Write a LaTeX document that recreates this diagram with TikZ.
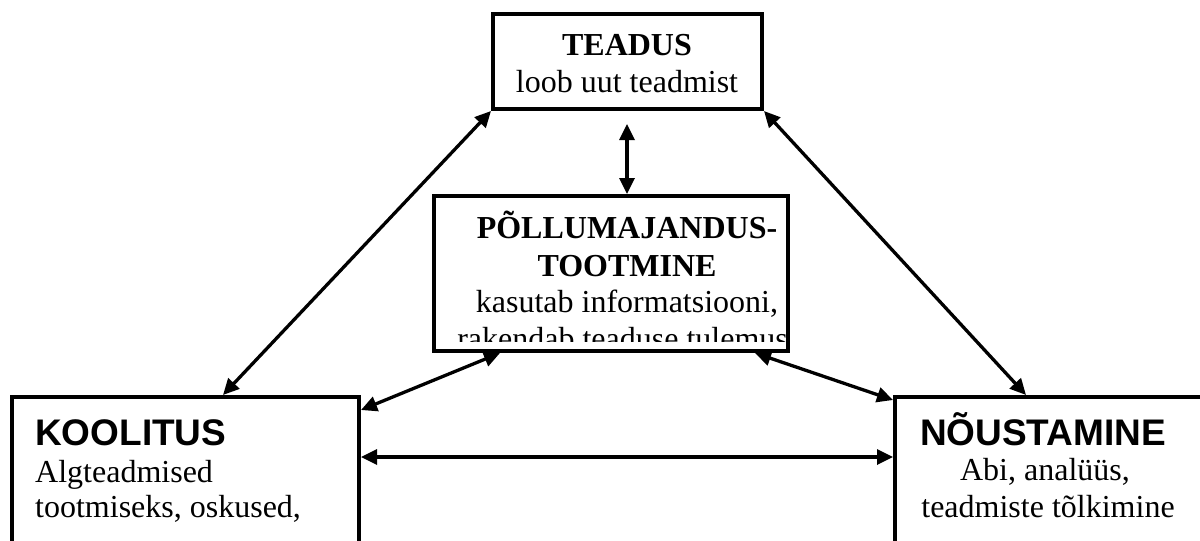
\documentclass[tikz,border=0pt]{standalone}
\usepackage{fontspec}
\setmainfont{Liberation Serif}
\newfontfamily\arialfont{Liberation Sans}
\usetikzlibrary{arrows.meta,calc}
\tikzset{
  boxshape/.style={draw, line width=4pt, rectangle, inner sep=0pt},
  serifline/.style={inner sep=0pt, anchor=base, font=\fontsize{32pt}{37pt}\selectfont},
  seriftitle/.style={inner sep=0pt, anchor=base, font=\fontsize{32pt}{37pt}\selectfont\bfseries},
  sanstitle/.style={inner sep=0pt, anchor=base, font=\fontsize{37pt}{42pt}\selectfont\arialfont\bfseries},
  link/.style={line width=3.3pt, {Triangle[length=16pt,width=15pt]}-{Triangle[length=16pt,width=15pt]}},
}
\begin{document}
\begin{tikzpicture}[x=1pt,y=-1pt]
\useasboundingbox (0,0) rectangle (1200,541);
\clip (0,0) rectangle (1200,541);
% boxes
\node[boxshape, minimum width=269pt, minimum height=95pt] (teadus) at (627.5,61.5) {};
\node[boxshape, minimum width=354pt, minimum height=155pt] (middle) at (611,273.5) {};
\node[boxshape, minimum width=347pt, minimum height=250pt] (kool) at (185.5,522) {};
\node[boxshape, minimum width=315pt, minimum height=250pt] (nous) at (1052.5,522) {};
% TEADUS text
\node[seriftitle] (t1) at (627,55) {TEADUS};
\node[serifline] (t2) at (627,92) {loob uut teadmist};
% middle text (clipped)
\begin{scope}
\clip (436,198) rectangle (786,341);
\node[seriftitle] (m1) at (627,238) {PÕLLUMAJANDUS-};
\node[seriftitle] (m2) at (627,276) {TOOTMINE};
\node[serifline] (m3) at (627,312) {kasutab informatsiooni,};
\node[serifline] (m4) at (627,349) {rakendab teaduse tulemusi};
\end{scope}
% KOOLITUS text
\node[sanstitle, anchor=base west] (k1) at (35,445) {KOOLITUS};
\node[serifline, anchor=base west] (k2) at (35,482) {Algteadmised};
\node[serifline, anchor=base west] (k3) at (35,517) {tootmiseks, oskused,};
% NOUSTAMINE text
\node[sanstitle] (n1) at (1043,445) {NÕUSTAMINE};
\node[serifline] (n2) at (1045,480) {Abi, analüüs,};
\node[serifline] (n3) at (1048,517) {teadmiste tõlkimine};
% connectors
\draw[link] (teadus.south west) -- ([xshift=213pt]kool.north west);
\draw[link] (teadus.south east) -- ([xshift=133pt]nous.north west);
\draw[link] ([yshift=-13pt,xshift=-0.5pt]teadus.south) -- ([xshift=16pt]middle.north);
\draw[link] ([xshift=68pt]middle.south west) -- ([yshift=-15pt]kool.north east);
\draw[link] ([xshift=-35pt]middle.south east) -- ([yshift=-5pt]nous.north west);
\draw[link] ([yshift=-62pt]kool.north east) -- ([yshift=-62pt]nous.north west);
\end{tikzpicture}
\end{document}
